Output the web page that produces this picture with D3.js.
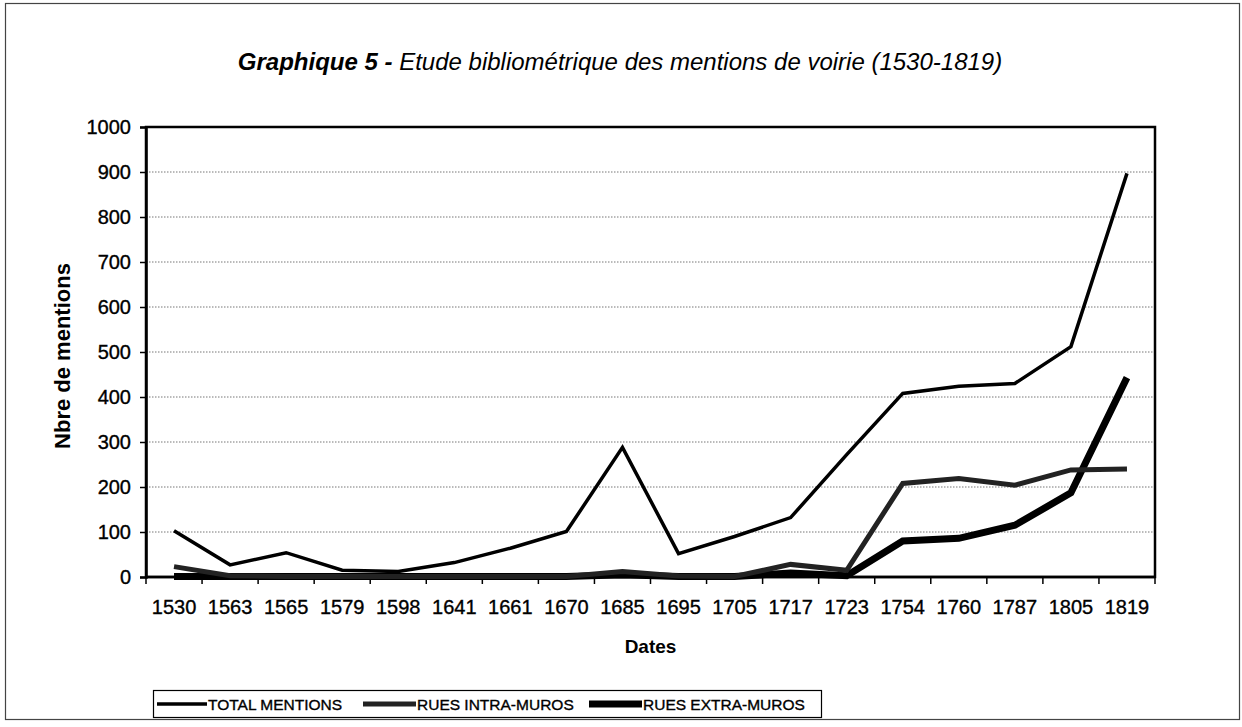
<!DOCTYPE html>
<html>
<head>
<meta charset="utf-8">
<script src="https://cdn.jsdelivr.net/npm/d3@7"></script>
<style>
  html, body { margin: 0; padding: 0; background: #fff; }
  svg { display: block; font-family: "Liberation Sans", Arial, sans-serif; }
  .heavy { stroke: #000; stroke-width: 0.35px; }
</style>
</head>
<body>
<svg id="chart" width="1242" height="727"></svg>
<script>
// Survey years (categories of the x axis)
const dates = ["1530","1563","1565","1579","1598","1641","1661","1670","1685","1695",
               "1705","1717","1723","1754","1760","1787","1805","1819"];

// Number of mentions per survey year
const totalMentions = [103, 27, 54, 15, 12, 32, 64, 101, 288, 52, 90, 132, 272, 408, 424, 430, 512, 897];
const ruesIntraMuros = [23, 3, 1, 1, 1, 1, 1, 1, 12, 2, 1, 28, 15, 208, 219, 204, 238, 240];
const ruesExtraMuros = [1, 1, 1, 1, 1, 1, 1, 1, 5, 1, 1, 9, 3, 80, 86, 115, 187, 443];

const yTicks = [0, 100, 200, 300, 400, 500, 600, 700, 800, 900, 1000];

const seriesNames = ["TOTAL MENTIONS", "RUES INTRA-MUROS", "RUES EXTRA-MUROS"];

const svg = d3.select("#chart");

// outer frame of the figure
svg.append("rect")
  .attr("x", 5.5).attr("y", 3.5).attr("width", 1234).attr("height", 716)
  .attr("fill", "none").attr("stroke", "#444").attr("stroke-width", 1.2);

// title
const title = svg.append("text")
  .attr("x", 620).attr("y", 70)
  .attr("text-anchor", "middle")
  .attr("font-size", 24)
  .attr("font-style", "italic")
  .attr("fill", "#000");
title.append("tspan").attr("font-weight", "bold").text("Graphique 5 - ");
title.append("tspan").text(" Etude bibliométrique des mentions de voirie (1530-1819)");

const plot = { left: 146, right: 1155, top: 127, bottom: 577 };

const x = d3.scaleBand().domain(dates).range([plot.left, plot.right]).padding(0);
const y = d3.scaleLinear().domain([0, 1000]).range([plot.bottom, plot.top]);

// horizontal dotted gridlines
svg.append("g")
  .selectAll("line")
  .data(yTicks.filter(t => t > 0 && t < 1000))
  .join("line")
  .attr("x1", plot.left).attr("x2", plot.right)
  .attr("y1", d => y(d)).attr("y2", d => y(d))
  .attr("stroke", "#777").attr("stroke-width", 1)
  .attr("stroke-dasharray", "1.5,1.5");

// plot frame
svg.append("rect")
  .attr("x", plot.left).attr("y", plot.top)
  .attr("width", plot.right - plot.left).attr("height", plot.bottom - plot.top)
  .attr("fill", "none").attr("stroke", "#000").attr("stroke-width", 2.5);

// y axis
const yAxis = d3.axisLeft(y).tickValues(yTicks).tickFormat(d3.format("d")).tickSize(6).tickPadding(9);
const gy = svg.append("g").attr("transform", `translate(${plot.left},0)`).call(yAxis);
gy.select(".domain").attr("stroke-width", 2.5);
gy.selectAll(".tick line").attr("stroke-width", 1.5);
gy.selectAll("text").attr("font-size", 20).attr("fill", "#000").attr("class", "heavy")
  .attr("font-family", "Liberation Sans, Arial, sans-serif");

// x axis: ticks sit between categories
const gx = svg.append("g").attr("transform", `translate(0,${plot.bottom})`);
gx.append("line")
  .attr("x1", plot.left).attr("x2", plot.right)
  .attr("stroke", "#000").attr("stroke-width", 2.5);
gx.selectAll("line.tk")
  .data(dates.concat(["end"]))
  .join("line").attr("class", "tk")
  .attr("x1", (d, i) => i < dates.length ? x(d) : x(dates[dates.length - 1]) + x.bandwidth())
  .attr("x2", (d, i) => i < dates.length ? x(d) : x(dates[dates.length - 1]) + x.bandwidth())
  .attr("y1", 0).attr("y2", 7)
  .attr("stroke", "#000").attr("stroke-width", 1.5);
gx.selectAll("text")
  .data(dates)
  .join("text")
  .attr("class", "heavy")
  .attr("x", d => x(d) + x.bandwidth() / 2)
  .attr("y", 37)
  .attr("text-anchor", "middle")
  .attr("font-size", 20)
  .attr("fill", "#000")
  .text(d => d);

// axis titles
svg.append("text")
  .attr("x", (plot.left + plot.right) / 2).attr("y", 653)
  .attr("text-anchor", "middle")
  .attr("font-size", 19).attr("font-weight", "bold")
  .text("Dates");

svg.append("text")
  .attr("transform", `translate(70,${(plot.top + plot.bottom) / 2 + 4}) rotate(-90)`)
  .attr("text-anchor", "middle")
  .attr("font-size", 22).attr("font-weight", "bold")
  .text("Nbre de mentions");

// series lines
const series = [
  { name: seriesNames[0], values: totalMentions, width: 3.5, color: "#000" },
  { name: seriesNames[1], values: ruesIntraMuros, width: 5, color: "#222" },
  { name: seriesNames[2], values: ruesExtraMuros, width: 7, color: "#000" }
];

const line = d3.line()
  .x((d, i) => x(dates[i]) + x.bandwidth() / 2)
  .y(d => y(d));

// draw the thickest first so thinner lines stay visible on top
svg.append("g")
  .selectAll("path")
  .data(series.slice().reverse())
  .join("path")
  .attr("d", d => line(d.values))
  .attr("fill", "none")
  .attr("stroke", d => d.color)
  .attr("stroke-width", d => d.width)
  .attr("stroke-linejoin", "miter")
  .attr("stroke-linecap", "butt");

// legend
const legend = svg.append("g");
legend.append("rect")
  .attr("x", 153.5).attr("y", 690.5).attr("width", 668).attr("height", 27)
  .attr("fill", "#fff").attr("stroke", "#000").attr("stroke-width", 1.2);

const legendItems = [
  { s: series[0], x0: 157, x1: 207 },
  { s: series[1], x0: 363, x1: 416 },
  { s: series[2], x0: 589, x1: 642 }
];
legendItems.forEach(it => {
  legend.append("line")
    .attr("x1", it.x0).attr("x2", it.x1)
    .attr("y1", 704).attr("y2", 704)
    .attr("stroke", it.s.color).attr("stroke-width", it.s.width);
  legend.append("text")
    .attr("class", "heavy")
    .attr("x", it.x1 + 1).attr("y", 710)
    .attr("font-size", 15.5).attr("fill", "#000")
    .text(it.s.name);
});
</script>
</body>
</html>
